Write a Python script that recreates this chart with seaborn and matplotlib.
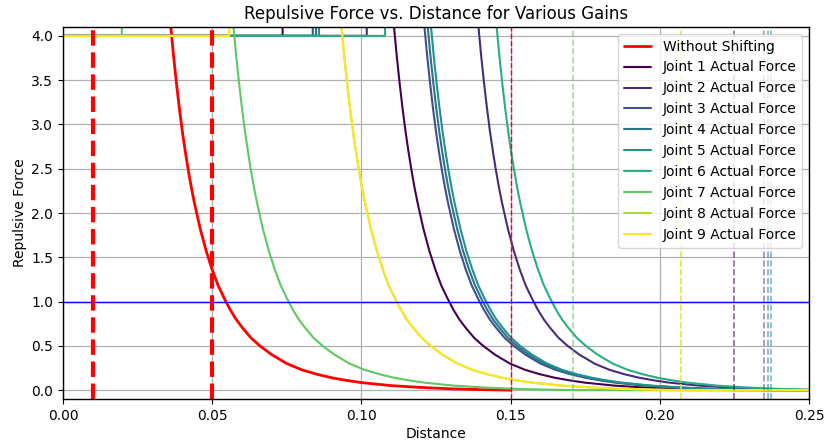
import numpy as np
import pandas as pd
import matplotlib
matplotlib.use("Agg")
import matplotlib.pyplot as plt
import seaborn as sns

# base curve read off the red "Without Shifting" line (distance, force)
base_d = [0.000, 0.034, 0.035, 0.036, 0.037, 0.038, 0.039, 0.040, 0.041, 0.042,
          0.043, 0.044, 0.046, 0.048, 0.050, 0.052, 0.054, 0.056, 0.058, 0.060,
          0.063, 0.066, 0.070, 0.075, 0.080, 0.085, 0.090, 0.095, 0.100, 0.110,
          0.120, 0.130, 0.140, 0.150]
base_f = [50.0, 5.02, 4.56, 4.15, 3.79, 3.47, 3.18, 2.92, 2.69, 2.48,
          2.29, 2.12, 1.82, 1.57, 1.36, 1.18, 1.04, 0.91, 0.80, 0.71,
          0.59, 0.50, 0.40, 0.30, 0.23, 0.18, 0.14, 0.11, 0.085, 0.051,
          0.030, 0.015, 0.006, 0.0]

joints = ["Joint 1", "Joint 2", "Joint 3", "Joint 4", "Joint 5",
          "Joint 6", "Joint 7", "Joint 8", "Joint 9"]
# shift of each joint curve and where its flat max-force part ends
shifts = [0.0748, 0.1031, 0.0850, 0.0861, 0.0872, 0.1092, 0.0210, 0.0572, 0.0572]
flat_end = [0.0736, 0.1018, 0.0837, 0.0848, 0.0858, 0.1079, 0.0197, 0.0557, 0.0557]
max_force = 4.0
x_end = 0.25

influence = 0.15          # cutoff distance of the unshifted curve
thick_lines = [0.01, 0.05]
threshold = 1.0

sns.set_theme(style="ticks", rc={
    "axes.edgecolor": "black", "axes.linewidth": 1.0,
    "xtick.color": "black", "ytick.color": "black",
    "xtick.major.size": 3.5, "ytick.major.size": 3.5,
    "xtick.major.width": 0.8, "ytick.major.width": 0.8,
    "xtick.major.pad": 3.5, "ytick.major.pad": 3.5,
    "axes.labelcolor": "black", "text.color": "black",
    "axes.labelpad": 3.0, "axes.titlepad": 6.0,
})
plt.rcParams["font.family"] = ["DejaVu Sans"]

fig = plt.figure(figsize=(8.31, 4.4), dpi=100)
ax = fig.add_axes([0.0758, 0.0932, 0.8977, 0.8454])

colors = sns.color_palette(plt.cm.viridis(np.linspace(0, 1, len(joints))))

sns.lineplot(x=base_d, y=base_f, ax=ax, color="red", lw=2,
             label="Without Shifting", estimator=None, sort=False)

for name, s, fe, c in zip(joints, shifts, flat_end, colors):
    xs = [0.0, fe] + [d + s for d in base_d] + [x_end]
    ys = [max_force, max_force] + base_f + [0.0]
    df = pd.DataFrame({"d": xs, "f": ys})
    sns.lineplot(data=df, x="d", y="f", ax=ax, color=c, lw=1.5,
                 label=f"{name} Actual Force", estimator=None, sort=False)

ax.axhline(threshold, color="blue", lw=1)
for v in thick_lines:
    ax.axvline(v, color="red", ls="--", lw=3)
ax.axvline(influence, color="red", ls="--", lw=1)
for s, c in zip(shifts, colors):
    ax.axvline(influence + s, color=c, ls="--", lw=1.2, alpha=0.6)

ax.set_xlim(0, 0.25)
ax.set_ylim(-0.1, 4.1)
ax.set_xticks(np.arange(0, 0.26, 0.05))
ax.set_xticklabels([f"{t:.2f}" for t in np.arange(0, 0.26, 0.05)])
ax.set_yticks(np.arange(0, 4.01, 0.5))
ax.tick_params(labelsize=10)
ax.grid(True, color="#b0b0b0", lw=0.9)
ax.set_xlabel("Distance", fontsize=10)
ax.set_ylabel("Repulsive Force", fontsize=10)
ax.set_title("Repulsive Force vs. Distance for Various Gains", fontsize=12)
ax.legend(loc="upper right", fontsize=10)

fig.savefig("out.png", dpi=100)
